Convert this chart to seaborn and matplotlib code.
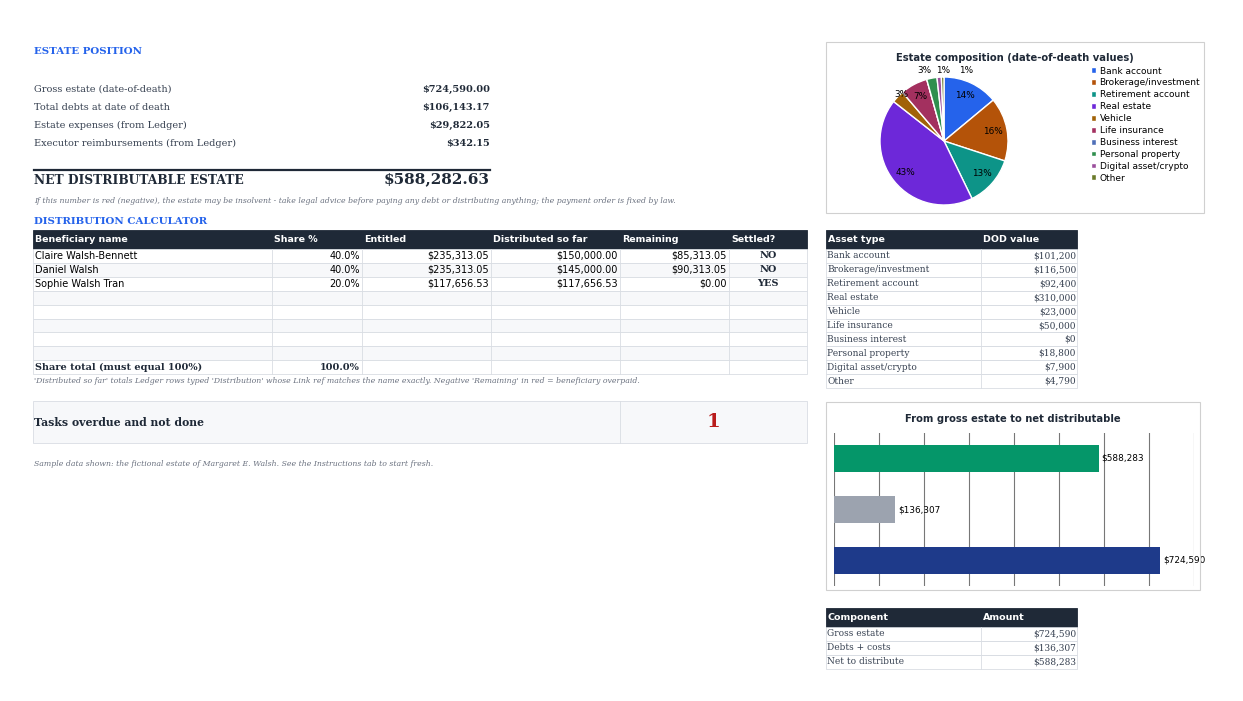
import matplotlib
matplotlib.use("Agg")
import matplotlib.pyplot as plt
import seaborn as sns
import pandas as pd
from matplotlib.patches import Rectangle

W, H = 1243, 701

# ---- data ----
position_labels = ["Gross estate (date-of-death)", "Total debts at date of death",
                   "Estate expenses (from Ledger)", "Executor reimbursements (from Ledger)"]
position_values = ["$724,590.00", "$106,143.17", "$29,822.05", "$342.15"]
net_estate = "$588,282.63"

ben_header = ["Beneficiary name", "Share %", "Entitled", "Distributed so far", "Remaining", "Settled?"]
ben_names = ["Claire Walsh-Bennett", "Daniel Walsh", "Sophie Walsh Tran"]
ben_share = ["40.0%", "40.0%", "20.0%"]
ben_entitled = ["$235,313.05", "$235,313.05", "$117,656.53"]
ben_distributed = ["$150,000.00", "$145,000.00", "$117,656.53"]
ben_remaining = ["$85,313.05", "$90,313.05", "$0.00"]
ben_settled = ["NO", "NO", "YES"]

asset_types = ["Bank account", "Brokerage/investment", "Retirement account", "Real estate", "Vehicle",
               "Life insurance", "Business interest", "Personal property", "Digital asset/crypto", "Other"]
asset_values = [101200, 116500, 92400, 310000, 23000, 50000, 0, 18800, 7900, 4790]
asset_colors = ["#2563eb", "#b45309", "#0d9488", "#6d28d9", "#a16207",
                "#a3305f", "#4f6fb8", "#2f8f4e", "#9b4f9c", "#6b7a2a"]

components = ["Gross estate", "Debts + costs", "Net to distribute"]
component_values = [724590, 136307, 588283]
component_colors = ["#1e3a8a", "#9ca3af", "#059669"]

DARK = "#1f2937"
BLUE = "#2563eb"
GRID = "#d9dde3"

fig = plt.figure(figsize=(W / 100, H / 100), dpi=100)
fig.patch.set_facecolor("white")


def fx(x):
    return x / W


def fy(y):
    return 1 - y / H


def txt(x, y, s, **kw):
    kw.setdefault("va", "center")
    kw.setdefault("family", "DejaVu Serif")
    kw.setdefault("fontsize", 7)
    kw.setdefault("color", "#374151")
    fig.text(fx(x), fy(y), s, **kw)


def rect(x0, y0, x1, y1, fc="none", ec=GRID, lw=0.6):
    fig.add_artist(Rectangle((fx(x0), fy(y1)), fx(x1 - x0), (y1 - y0) / H,
                             transform=fig.transFigure, facecolor=fc, edgecolor=ec, lw=lw))


def hline(x0, x1, y, color=GRID, lw=0.6):
    fig.add_artist(plt.Line2D([fx(x0), fx(x1)], [fy(y), fy(y)], transform=fig.transFigure, color=color, lw=lw))


# ---- estate position ----
txt(34, 52, "ESTATE POSITION", color=BLUE, weight="bold", fontsize=7.4)
for i, (lab, val) in enumerate(zip(position_labels, position_values)):
    y = 89 + i * 18.3
    txt(34, y, lab)
    txt(490, y, val, ha="right", weight="bold", color=DARK)
hline(34, 490, 170, color=DARK, lw=1.6)
txt(34, 180, "NET DISTRIBUTABLE ESTATE", weight="bold", fontsize=8.8, color=DARK)
txt(490, 179, net_estate, ha="right", weight="bold", fontsize=11, color=DARK)
txt(34, 201, "If this number is red (negative), the estate may be insolvent - take legal advice before paying any debt "
    "or distributing anything; the payment order is fixed by law.", style="italic", fontsize=5.6, color="#6b7280")

# ---- distribution calculator ----
txt(34, 222, "DISTRIBUTION CALCULATOR", color=BLUE, weight="bold", fontsize=7.4)
cols = [33, 272, 362, 491, 620, 729, 807]
rect(33, 230, 807, 249, fc=DARK, ec=DARK)
for j, h in enumerate(ben_header):
    txt(cols[j] + 2, 239.5, h, family="DejaVu Sans", weight="bold", color="white", fontsize=6.8)
row_h = 13.9
for r in range(9):
    y0 = 249 + r * row_h
    rect(33, y0, 807, y0 + row_h, fc="#f7f8fa" if r % 2 else "white")
    for c in cols[1:-1]:
        fig.add_artist(plt.Line2D([fx(c), fx(c)], [fy(y0), fy(y0 + row_h)], transform=fig.transFigure,
                                  color=GRID, lw=0.6))
for i in range(len(ben_names)):
    y = 249 + i * row_h + row_h / 2
    txt(35, y, ben_names[i], family="DejaVu Sans", color="black")
    for j, v in enumerate([ben_share[i], ben_entitled[i], ben_distributed[i], ben_remaining[i]]):
        txt(cols[j + 2] - 2, y, v, ha="right", family="DejaVu Sans", color="black")
    txt(768, y, ben_settled[i], ha="center", weight="bold", color=DARK)
ytot = 249 + 8 * row_h + row_h / 2
txt(35, ytot, "Share total (must equal 100%)", weight="bold", color=DARK)
txt(360, ytot, "100.0%", ha="right", weight="bold", color=DARK)
txt(34, 381, "'Distributed so far' totals Ledger rows typed 'Distribution' whose Link ref matches the name exactly. "
    "Negative 'Remaining' in red = beneficiary overpaid.", style="italic", fontsize=5.6, color="#6b7280")

rect(33, 401, 807, 443, fc="#f7f8fa")
fig.add_artist(plt.Line2D([fx(620), fx(620)], [fy(401), fy(443)], transform=fig.transFigure, color=GRID, lw=0.6))
txt(34, 422, "Tasks overdue and not done", weight="bold", fontsize=7.8, color=DARK)
txt(713, 422, "1", ha="center", weight="bold", fontsize=14, color="#b91c1c")
txt(34, 464, "Sample data shown: the fictional estate of Margaret E. Walsh. See the Instructions tab to start fresh.",
    style="italic", fontsize=5.6, color="#6b7280")


# ---- small tables ----
def small_table(y_top, header, names, values):
    rect(826, y_top, 1077, y_top + 19, fc=DARK, ec=DARK)
    txt(828, y_top + 10, header[0], family="DejaVu Sans", weight="bold", color="white", fontsize=6.8)
    txt(983, y_top + 10, header[1], family="DejaVu Sans", weight="bold", color="white", fontsize=6.8)
    for i, (n, v) in enumerate(zip(names, values)):
        y0 = y_top + 19 + i * 13.9
        rect(826, y0, 1077, y0 + 13.9)
        fig.add_artist(plt.Line2D([fx(981), fx(981)], [fy(y0), fy(y0 + 13.9)], transform=fig.transFigure,
                                  color=GRID, lw=0.6))
        txt(827, y0 + 7, n, fontsize=6.5)
        txt(1076, y0 + 7, f"${v:,.0f}", ha="right", fontsize=6.5)


small_table(230, ["Asset type", "DOD value"], asset_types, asset_values)
small_table(608, ["Component", "Amount"], components, component_values)

# ---- pie ----
rect(826, 42, 1204, 213, ec="#d0d0d0", lw=0.8)
txt(1015, 58, "Estate composition (date-of-death values)", ha="center", family="DejaVu Sans",
    weight="bold", fontsize=7.2, color=DARK)
axp = fig.add_axes([fx(880), fy(205), fx(128), 128 / H])
total = sum(asset_values)
wedges, texts, autotexts = axp.pie(
    asset_values, colors=asset_colors, startangle=90, counterclock=False,
    autopct=lambda p: f"{p:.0f}%" if p > 0 else "", pctdistance=0.78,
    wedgeprops=dict(edgecolor="white", linewidth=1), textprops=dict(fontsize=6.4))
small_pos = {4: (-0.66, 0.72), 7: (-0.3, 1.1), 8: (-0.02, 1.1), 9: (0.35, 1.1)}
for k, (px, py) in small_pos.items():
    autotexts[k].set_position((px, py))
axp.set_xlim(-1.0, 1.0)
axp.set_ylim(-1.0, 1.0)
axp.set_aspect("equal")
axp.legend(wedges, asset_types, loc="upper left", bbox_to_anchor=(fx(1086), fy(62)),
           bbox_transform=fig.transFigure, frameon=False, fontsize=6.5, handlelength=0.6,
           handleheight=0.6, handletextpad=0.4, labelspacing=0.32, borderpad=0)

# ---- bar ----
rect(826, 402, 1200, 590, ec="#d0d0d0", lw=0.8)
txt(1013, 419, "From gross estate to net distributable", ha="center", family="DejaVu Sans",
    weight="bold", fontsize=7.2, color=DARK)
axb = fig.add_axes([fx(834), fy(586), fx(360), (586 - 433) / H])
df = pd.DataFrame({"component": components, "value": component_values})
sns.barplot(data=df, y="component", x="value", hue="component", palette=component_colors,
            order=components[::-1], orient="h", ax=axb, width=0.53, saturation=1, legend=False)
axb.set_xlim(0, 800000)
axb.set_xticks(range(0, 800001, 100000))
axb.grid(axis="x", color="#777777", lw=0.8)
axb.set_axisbelow(True)
axb.tick_params(left=False, bottom=False, labelleft=False, labelbottom=False)
for s in axb.spines.values():
    s.set_visible(False)
axb.set_xlabel("")
axb.set_ylabel("")
for c in axb.containers:
    axb.bar_label(c, labels=[f"${v:,.0f}" for v in c.datavalues], padding=2, fontsize=6.4)

fig.savefig("out.png", dpi=100, facecolor="white")
